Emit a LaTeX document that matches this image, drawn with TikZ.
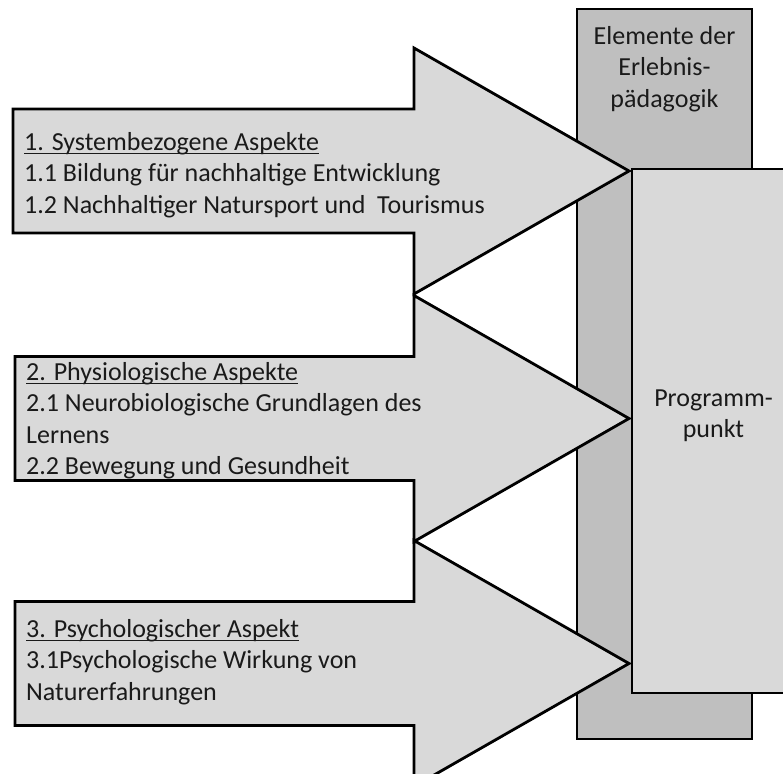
\documentclass[tikz,border=0pt]{standalone}
\usepackage{fontspec}
\setmainfont{Carlito}
\definecolor{lightfill}{HTML}{D9D9D9}
\definecolor{darkfill}{HTML}{BFBFBF}
\definecolor{txt}{HTML}{1A1A1A}
\begin{document}
\begin{tikzpicture}[x=1pt,y=-1pt,
  blk/.style={draw=black,line width=2.8pt,line join=miter},
  lbl/.style={anchor=base west,inner sep=0pt,text=txt,font=\fontsize{26}{32}\selectfont},
  clbl/.style={anchor=base,inner sep=0pt,text=txt,font=\fontsize{26}{32}\selectfont},
  uline/.style={draw=txt,line width=1.6pt}]
\useasboundingbox (0,0) rectangle (783,773);
% back rectangle
\path[blk,fill=darkfill] (577,9) rectangle (752,739);
\node[clbl] (e1) at (664.5,45) {Elemente der};
\node[clbl] (e2) at (664.5,76) {Erlebnis-};
\node[clbl] (e3) at (664.5,107) {pädagogik};
% front rectangle
\path[blk,fill=lightfill] (632,169) -- (790,169) -- (790,693) -- (632,693) -- cycle;
\node[clbl] (p1) at (713.5,406) {Programm-};
\node[clbl] (p2) at (713.5,437) {punkt};
% arrows
\foreach \n/\lx/\cy in {1/13/171, 2/15/418.5, 3/15/663.5}{
  \path[blk,fill=lightfill] (\lx,\cy-62) -- (414,\cy-62) -- (414,\cy-123) -- (629,\cy)
     -- (414,\cy+123) -- (414,\cy+62) -- (\lx,\cy+62) -- cycle;
}
\node[lbl] (a1h) at (24,150) {1. Systembezogene Aspekte};
\node[lbl] (a1a) at (24,181.5) {1.1 Bildung für nachhaltige Entwicklung};
\node[lbl] (a1b) at (24,213) {1.2 Nachhaltiger Natursport und~ Tourismus};
\node[lbl] (a2h) at (26,380) {2. Physiologische Aspekte};
\node[lbl] (a2a) at (26,411.5) {2.1 Neurobiologische Grundlagen des};
\node[lbl] (a2b) at (26,443) {Lernens};
\node[lbl] (a2c) at (26,474) {2.2 Bewegung und Gesundheit};
\node[lbl] (a3h) at (26,637) {3. Psychologischer Aspekt};
\node[lbl] (a3a) at (26,668.5) {3.1Psychologische Wirkung von};
\node[lbl] (a3b) at (26,700) {Naturerfahrungen};
\foreach \h in {a1h,a2h,a3h}{
  \draw[uline] ([yshift=-3.5pt]\h.base west) -- ([yshift=-3.5pt]\h.base east);
}
\end{tikzpicture}
\end{document}
